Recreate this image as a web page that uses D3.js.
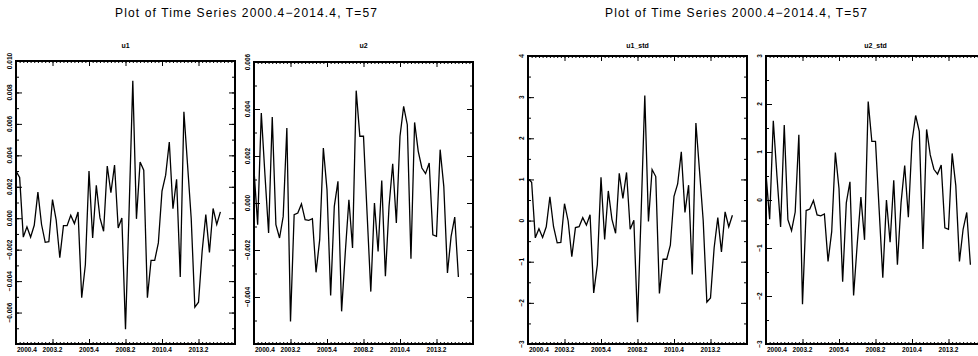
<!DOCTYPE html>
<html>
<head>
<meta charset="UTF-8">
<title>Plot of Time Series</title>
<style>
  body { margin: 0; background: #fff; }
  svg { display: block; }
  .title { font-family: "Liberation Sans", Arial, sans-serif; font-size: 12px; fill: #000; }
  .ptitle, .tick-label { font-family: "Liberation Sans", Arial, sans-serif; font-weight: bold; fill: #000; }
  .ptitle { font-size: 7px; }
  .tick-label { font-size: 6.5px; }
  .frame { fill: none; stroke: #000; stroke-width: 2; }
  .series { fill: none; stroke: #000; stroke-width: 1.3; stroke-linejoin: miter; }
  .axis path { display: none; }
  .axis line { stroke: #000; stroke-width: 1; }
</style>
</head>
<body>
<svg id="chart" width="978" height="356"></svg>
<script src="https://d3js.org/d3.v7.min.js"></script>
<script>
// quarterly observations 2000.4 .. 2014.4 (T = 57)
const nObs = 57;
const xTickIdx = [0, 10, 20, 30, 40, 50];
const xTickLabels = ["2000.4", "2003.2", "2005.4", "2008.2", "2010.4", "2013.2"];

const u1 = [
  0.0030, 0.0026, -0.0012, -0.00055, -0.0012, -0.00045, 0.00166, -0.0004, -0.00153, -0.00149,
  0.00119, -0.0001, -0.00251, -0.00047, -0.00047, 0.00019, -0.00034, 0.0004, -0.00506, -0.00296,
  0.0030, -0.00126, 0.00209, 0.00002, -0.00083, 0.00332, 0.00162, 0.00338, -0.00062, 0.00002,
  -0.00706, 0.0006, 0.00874, -0.00004, 0.00357, 0.00306, -0.00506, -0.00268, -0.00268, -0.00157,
  0.00172, 0.00274, 0.00485, 0.0006, 0.00247, -0.00374, 0.00677, 0.0034, 0.0000, -0.00566,
  -0.00534, -0.0021, 0.00023, -0.00217, 0.00062, -0.0004, 0.0004
];
const u2 = [
  0.0014, -0.00092, 0.00383, 0.0012, -0.00128, 0.00366, -0.00092, -0.00149, -0.00057, 0.00319,
  -0.00504, -0.0005, -0.00043, -0.00004, -0.00071, -0.00074, -0.00067, -0.00295, -0.00156, 0.00234,
  0.00057, -0.00394, -0.00014, 0.00092, -0.00461, -0.00213, 0.00014, -0.00191, 0.00478, 0.00284,
  0.00284, -0.0005, -0.00377, 0.0000, -0.00206, 0.00096, -0.00312, -0.00014, 0.00167, -0.00085,
  0.00284, 0.00411, 0.00333, -0.00237, 0.00343, 0.0022, 0.00149, 0.00125, 0.0017, -0.00135,
  -0.00142, 0.00227, 0.00071, -0.00298, -0.00142, -0.0006, -0.00315
];
const u1Std = [
  1.02, 0.93, -0.42, -0.20, -0.41, -0.15, 0.58, -0.15, -0.54, -0.53,
  0.41, -0.01, -0.88, -0.17, -0.15, 0.07, -0.11, 0.14, -1.76, -1.07,
  1.05, -0.46, 0.72, 0.03, -0.31, 1.15, 0.54, 1.17, -0.21, 0.01,
  -2.47, 0.2, 3.04, -0.02, 1.24, 1.07, -1.77, -0.94, -0.94, -0.60,
  0.59, 0.89, 1.67, 0.20, 0.86, -1.31, 2.37, 1.2, 0.0, -1.98,
  -1.88, -0.66, 0.07, -0.76, 0.21, -0.15, 0.13
];
const u2Std = [
  0.55, -0.40, 1.65, 0.5, -0.56, 1.56, -0.41, -0.64, -0.25, 1.36,
  -2.17, -0.22, -0.19, -0.01, -0.31, -0.33, -0.29, -1.28, -0.66, 0.99,
  0.24, -1.70, -0.06, 0.38, -1.99, -0.91, 0.06, -0.83, 2.05, 1.22,
  1.22, -0.2, -1.62, 0.0, -0.88, 0.41, -1.35, -0.06, 0.72, -0.36,
  1.22, 1.76, 1.43, -1.02, 1.47, 0.94, 0.64, 0.54, 0.73, -0.58,
  -0.61, 0.97, 0.30, -1.28, -0.61, -0.26, -1.35
];

const u1Ticks = [-0.006, -0.004, -0.002, 0.000, 0.002, 0.004, 0.006, 0.008, 0.010];
const u2Ticks = [-0.004, -0.002, 0.000, 0.002, 0.004, 0.006];
const u1StdTicks = [-3, -2, -1, 0, 1, 2, 3, 4];
const u2StdTicks = [-3, -2, -1, 0, 1, 2, 3];

const figTitle = "Plot of Time Series 2000.4\u22122014.4, T=57";

const svg = d3.select("#chart");

// figure titles
[246, 736].forEach(cx => {
  svg.append("text").attr("class", "title")
    .attr("x", cx).attr("y", 17)
    .attr("text-anchor", "middle")
    .attr("textLength", 262).attr("lengthAdjust", "spacing")
    .text(figTitle);
});

const panels = [
  { name: "u1", data: u1, box: [16, 235, 61, 344], dom: [-0.008, 0.010], major: u1Ticks, minorStep: 0.001, fmt: d3.format(".3f") },
  { name: "u2", data: u2, box: [254, 473, 62, 344], dom: [-0.006, 0.006], major: u2Ticks, minorStep: 0.001, fmt: d3.format(".3f") },
  { name: "u1_std", data: u1Std, box: [528, 747, 56, 344], dom: [-3, 4], major: u1StdTicks, minorStep: 0.5, fmt: d3.format("d") },
  { name: "u2_std", data: u2Std, box: [766, 985, 56, 344], dom: [-3, 3], major: u2StdTicks, minorStep: 0.5, fmt: d3.format("d") }
];

panels.forEach(p => {
  const [l, r, t, b] = p.box;
  const x = d3.scaleLinear().domain([0, 60]).range([l, r]);
  const y = d3.scaleLinear().domain(p.dom).range([b, t]);
  const g = svg.append("g");

  const minor = d3.range(Math.round((p.dom[1] - p.dom[0]) / p.minorStep) + 1)
    .map(i => p.dom[0] + i * p.minorStep);
  const xMinor = d3.range(0, 61);

  // y ticks, inward on left and right
  g.append("g").attr("class", "axis").attr("transform", `translate(${l},0)`)
    .call(d3.axisLeft(y).tickValues(minor).tickSize(-3).tickFormat(""));
  g.append("g").attr("class", "axis").attr("transform", `translate(${l},0)`)
    .call(d3.axisLeft(y).tickValues(p.major).tickSize(-6).tickFormat(""));
  g.append("g").attr("class", "axis").attr("transform", `translate(${r},0)`)
    .call(d3.axisRight(y).tickValues(minor).tickSize(-3).tickFormat(""));
  g.append("g").attr("class", "axis").attr("transform", `translate(${r},0)`)
    .call(d3.axisRight(y).tickValues(p.major).tickSize(-6).tickFormat(""));

  // x ticks, inward on bottom and top
  g.append("g").attr("class", "axis").attr("transform", `translate(0,${b})`)
    .call(d3.axisBottom(x).tickValues(xMinor).tickSize(-2).tickFormat(""));
  g.append("g").attr("class", "axis").attr("transform", `translate(0,${b})`)
    .call(d3.axisBottom(x).tickValues(xTickIdx).tickSize(-5).tickFormat(""));
  g.append("g").attr("class", "axis").attr("transform", `translate(0,${t})`)
    .call(d3.axisTop(x).tickValues(xMinor).tickSize(-2).tickFormat(""));
  g.append("g").attr("class", "axis").attr("transform", `translate(0,${t})`)
    .call(d3.axisTop(x).tickValues(xTickIdx).tickSize(-5).tickFormat(""));

  // frame
  g.append("rect").attr("class", "frame")
    .attr("x", l).attr("y", t).attr("width", r - l).attr("height", b - t);

  // y labels, rotated
  g.selectAll(".ylab").data(p.major.concat([p.dom[1]]).filter((v, i, a) => a.indexOf(v) === i))
    .join("text").attr("class", "tick-label")
    .attr("transform", d => `translate(${l - 4},${y(d)}) rotate(-90)`)
    .attr("text-anchor", "middle")
    .text(d => p.fmt(d));

  // x labels
  g.selectAll(".xlab").data(xTickIdx)
    .join("text").attr("class", "tick-label")
    .attr("x", d => d === 0 ? x(d) + 1 : x(d))
    .attr("y", b + 8)
    .attr("text-anchor", d => d === 0 ? "start" : "middle")
    .text((d, i) => xTickLabels[i]);

  // panel title
  g.append("text").attr("class", "ptitle")
    .attr("x", (l + r) / 2).attr("y", 48)
    .attr("text-anchor", "middle")
    .text(p.name);

  // series
  const line = d3.line().x((d, i) => x(i)).y(d => y(d));
  g.append("path").attr("class", "series").attr("d", line(p.data));
});
</script>
</body>
</html>
